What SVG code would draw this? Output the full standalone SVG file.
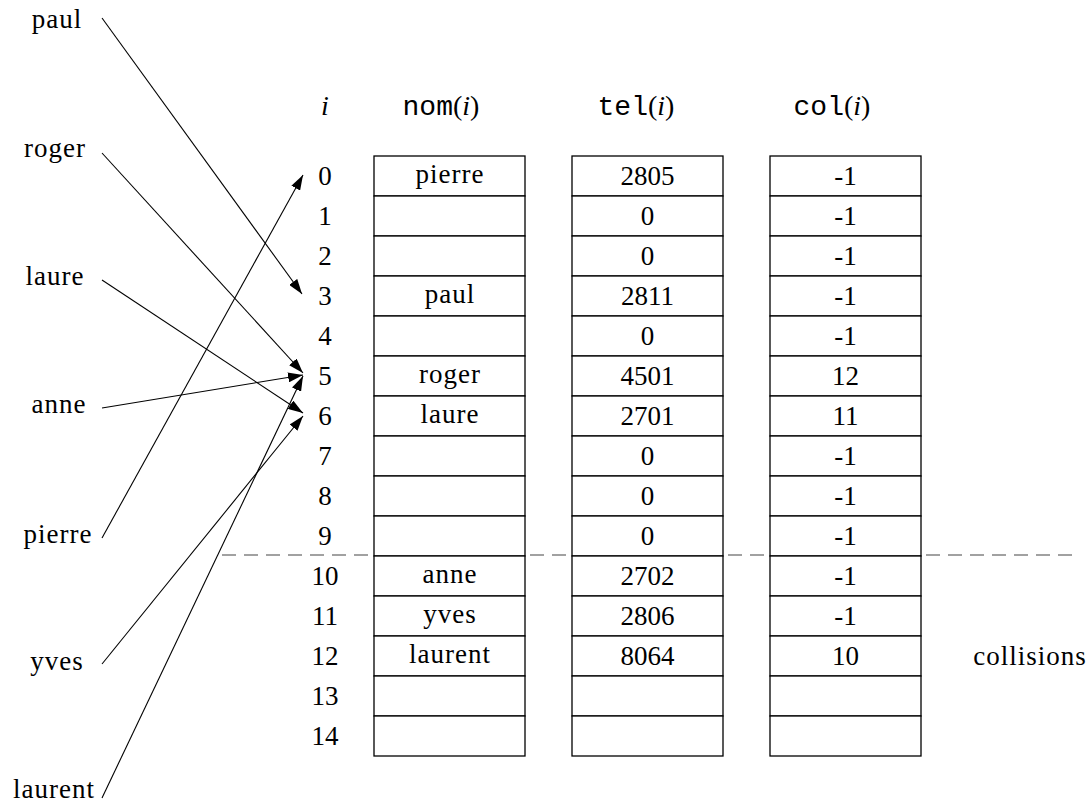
<svg xmlns="http://www.w3.org/2000/svg" width="1092" height="807" viewBox="0 0 1092 807">
  <style>
    .t { font-family: "Liberation Serif", serif; font-size: 27px; fill: #000; }
    .c { text-anchor: middle; }
    .w { letter-spacing: 1px; }
    .h { font-size: 28px; }
    .tt { font-family: "Liberation Mono", monospace; }
    .it { font-style: italic; }
    .cell { fill: #fff; stroke: #000; stroke-width: 1.3; }
    .arrow { stroke: #000; stroke-width: 1.1; fill: none; marker-end: url(#head); }
    .dash { stroke: #444; stroke-width: 1.2; stroke-dasharray: 14 8; }
  </style>
  <defs>
    <marker id="head" markerUnits="userSpaceOnUse" markerWidth="16" markerHeight="10" refX="15" refY="5" orient="auto">
      <path d="M0,0 L15,5 L0,10 Z" fill="#000"/>
    </marker>
  </defs>
  <rect width="1092" height="807" fill="#fff"/>

  <!-- boundary between main area and overflow area -->
  <line class="dash" x1="222" y1="555" x2="1078" y2="555"/>

  <!-- column headers -->
  <g id="headers" class="t c h">
    <text x="325" y="115" class="it">i</text>
    <text x="441" y="115"><tspan class="tt">nom</tspan>(<tspan class="it">i</tspan>)</text>
    <text x="636" y="115"><tspan class="tt">tel</tspan>(<tspan class="it">i</tspan>)</text>
    <text x="832" y="115"><tspan class="tt">col</tspan>(<tspan class="it">i</tspan>)</text>
  </g>

  <!-- index column -->
  <g id="index" class="t c">
    <text x="325" y="185">0</text>
    <text x="325" y="225">1</text>
    <text x="325" y="265">2</text>
    <text x="325" y="305">3</text>
    <text x="325" y="345">4</text>
    <text x="325" y="385">5</text>
    <text x="325" y="425">6</text>
    <text x="325" y="465">7</text>
    <text x="325" y="505">8</text>
    <text x="325" y="545">9</text>
    <text x="325" y="585">10</text>
    <text x="325" y="625">11</text>
    <text x="325" y="665">12</text>
    <text x="325" y="705">13</text>
    <text x="325" y="745">14</text>
  </g>

  <!-- nom(i) -->
  <g id="nom">
    <rect class="cell" x="374" y="156" width="151" height="40"/>
    <rect class="cell" x="374" y="196" width="151" height="40"/>
    <rect class="cell" x="374" y="236" width="151" height="40"/>
    <rect class="cell" x="374" y="276" width="151" height="40"/>
    <rect class="cell" x="374" y="316" width="151" height="40"/>
    <rect class="cell" x="374" y="356" width="151" height="40"/>
    <rect class="cell" x="374" y="396" width="151" height="40"/>
    <rect class="cell" x="374" y="436" width="151" height="40"/>
    <rect class="cell" x="374" y="476" width="151" height="40"/>
    <rect class="cell" x="374" y="516" width="151" height="40"/>
    <rect class="cell" x="374" y="556" width="151" height="40"/>
    <rect class="cell" x="374" y="596" width="151" height="40"/>
    <rect class="cell" x="374" y="636" width="151" height="40"/>
    <rect class="cell" x="374" y="676" width="151" height="40"/>
    <rect class="cell" x="374" y="716" width="151" height="40"/>
    <g class="t c w">
      <text x="450" y="183">pierre</text>
      <text x="450" y="303">paul</text>
      <text x="450" y="383">roger</text>
      <text x="450" y="423">laure</text>
      <text x="450" y="583">anne</text>
      <text x="450" y="623">yves</text>
      <text x="450" y="663">laurent</text>
    </g>
  </g>

  <!-- tel(i) -->
  <g id="tel">
    <rect class="cell" x="572" y="156" width="151" height="40"/>
    <rect class="cell" x="572" y="196" width="151" height="40"/>
    <rect class="cell" x="572" y="236" width="151" height="40"/>
    <rect class="cell" x="572" y="276" width="151" height="40"/>
    <rect class="cell" x="572" y="316" width="151" height="40"/>
    <rect class="cell" x="572" y="356" width="151" height="40"/>
    <rect class="cell" x="572" y="396" width="151" height="40"/>
    <rect class="cell" x="572" y="436" width="151" height="40"/>
    <rect class="cell" x="572" y="476" width="151" height="40"/>
    <rect class="cell" x="572" y="516" width="151" height="40"/>
    <rect class="cell" x="572" y="556" width="151" height="40"/>
    <rect class="cell" x="572" y="596" width="151" height="40"/>
    <rect class="cell" x="572" y="636" width="151" height="40"/>
    <rect class="cell" x="572" y="676" width="151" height="40"/>
    <rect class="cell" x="572" y="716" width="151" height="40"/>
    <g class="t c">
      <text x="647.5" y="185">2805</text>
      <text x="647.5" y="225">0</text>
      <text x="647.5" y="265">0</text>
      <text x="647.5" y="305">2811</text>
      <text x="647.5" y="345">0</text>
      <text x="647.5" y="385">4501</text>
      <text x="647.5" y="425">2701</text>
      <text x="647.5" y="465">0</text>
      <text x="647.5" y="505">0</text>
      <text x="647.5" y="545">0</text>
      <text x="647.5" y="585">2702</text>
      <text x="647.5" y="625">2806</text>
      <text x="647.5" y="665">8064</text>
    </g>
  </g>

  <!-- col(i) -->
  <g id="col">
    <rect class="cell" x="770" y="156" width="151" height="40"/>
    <rect class="cell" x="770" y="196" width="151" height="40"/>
    <rect class="cell" x="770" y="236" width="151" height="40"/>
    <rect class="cell" x="770" y="276" width="151" height="40"/>
    <rect class="cell" x="770" y="316" width="151" height="40"/>
    <rect class="cell" x="770" y="356" width="151" height="40"/>
    <rect class="cell" x="770" y="396" width="151" height="40"/>
    <rect class="cell" x="770" y="436" width="151" height="40"/>
    <rect class="cell" x="770" y="476" width="151" height="40"/>
    <rect class="cell" x="770" y="516" width="151" height="40"/>
    <rect class="cell" x="770" y="556" width="151" height="40"/>
    <rect class="cell" x="770" y="596" width="151" height="40"/>
    <rect class="cell" x="770" y="636" width="151" height="40"/>
    <rect class="cell" x="770" y="676" width="151" height="40"/>
    <rect class="cell" x="770" y="716" width="151" height="40"/>
    <g class="t c">
      <text x="845.5" y="185">-1</text>
      <text x="845.5" y="225">-1</text>
      <text x="845.5" y="265">-1</text>
      <text x="845.5" y="305">-1</text>
      <text x="845.5" y="345">-1</text>
      <text x="845.5" y="385">12</text>
      <text x="845.5" y="425">11</text>
      <text x="845.5" y="465">-1</text>
      <text x="845.5" y="505">-1</text>
      <text x="845.5" y="545">-1</text>
      <text x="845.5" y="585">-1</text>
      <text x="845.5" y="625">-1</text>
      <text x="845.5" y="665">10</text>
    </g>
  </g>

  <g id="collisions" class="t c w">
    <text x="1030" y="665">collisions</text>
  </g>

  <!-- keys -->
  <g id="keys" class="t c w">
    <text x="57" y="28">paul</text>
    <text x="55" y="157">roger</text>
    <text x="55" y="285">laure</text>
    <text x="59" y="413">anne</text>
    <text x="58" y="543">pierre</text>
    <text x="57" y="670">yves</text>
    <text x="54" y="798">laurent</text>
  </g>

  <!-- hash connectors -->
  <g id="connectors">
    <line class="arrow" x1="102" y1="18" x2="302" y2="294"/>
    <line class="arrow" x1="102" y1="153" x2="303" y2="373"/>
    <line class="arrow" x1="102" y1="280" x2="303" y2="413"/>
    <line class="arrow" x1="102" y1="408" x2="303" y2="375"/>
    <line class="arrow" x1="102" y1="538" x2="303" y2="175"/>
    <line class="arrow" x1="102" y1="664" x2="303" y2="416"/>
    <line class="arrow" x1="102" y1="798" x2="303" y2="376"/>
  </g>
</svg>
